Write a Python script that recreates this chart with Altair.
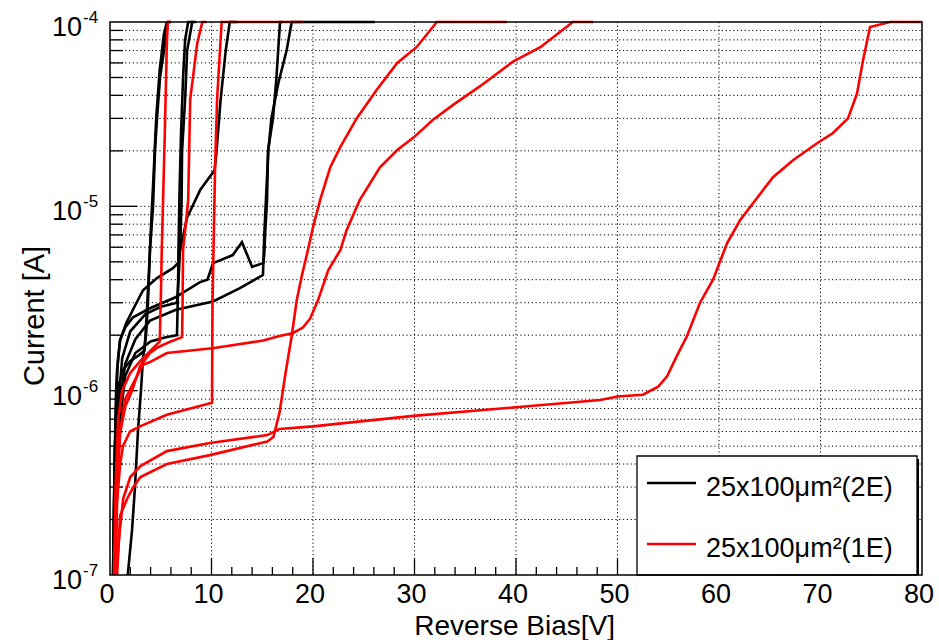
import altair as alt
import pandas as pd

# ---------------- data ----------------
# Black curves: 25x100um^2 (2E)
K1_V = [1.75, 2.17, 2.46, 2.76, 3.05, 3.25, 3.55, 3.74, 3.94, 4.24, 4.43, 4.63, 4.93, 5.32, 5.71, 6.0]
K1_I = [1e-7, 1.75e-7, 3e-7, 6.1e-7, 1e-6, 1.5e-6, 2e-6, 3e-6, 5.8e-6, 1e-5, 2e-5, 3e-5, 5e-5, 7e-5, 1e-4, 1e-4]
K2_V = [0.3, 0.4, 0.5, 0.65, 0.9, 1.3, 2.0, 2.8, 3.4, 3.6, 3.8, 4.05, 4.3, 4.55, 4.9, 5.3, 5.6]
K2_I = [1e-7, 2.5e-7, 5e-7, 8e-7, 1.1e-6, 1.3e-6, 1.45e-6, 1.55e-6, 1.65e-6, 2.5e-6, 4e-6, 8e-6, 1.5e-5, 3e-5, 5.5e-5, 8.5e-5, 1e-4]
K3_V = [0.35, 0.45, 0.6, 0.8, 1.0, 1.6, 2.6, 3.25, 4.63, 6.2, 6.7, 6.9, 7.05, 7.1, 7.4, 7.6, 8.1, 8.5]
K3_I = [1e-7, 4e-7, 1e-6, 1.5e-6, 1.88e-6, 2.33e-6, 2.99e-6, 3.5e-6, 4.08e-6, 4.62e-6, 4.92e-6, 5.8e-6, 1.05e-5, 2e-5, 3.8e-5, 7e-5, 1e-4, 1e-4]
K4_V = [0.4, 0.55, 0.8, 1.2, 2.0, 3.5, 5.0, 6.6, 6.75, 6.9, 7.6, 8.9, 10.3, 10.5, 10.9, 11.4, 11.8, 12.5]
K4_I = [1e-7, 3e-7, 8e-7, 1.5e-6, 2.1e-6, 2.6e-6, 2.85e-6, 3.0e-6, 4e-6, 5.8e-6, 8.7e-6, 1.23e-5, 1.57e-5, 2e-5, 3.8e-5, 7e-5, 1e-4, 1e-4]
K5_V = [0.5, 0.7, 1.0, 1.5, 2.5, 4.0, 5.5, 6.6, 6.7, 6.75, 6.85, 7.0, 7.2, 7.4, 7.7, 8.2]
K5_I = [1e-7, 3e-7, 7e-7, 1.2e-6, 1.6e-6, 1.85e-6, 1.95e-6, 2.0e-6, 3.5e-6, 6e-6, 1.2e-5, 2.5e-5, 5e-5, 8e-5, 1e-4, 1e-4]
K6_V = [0.3, 0.45, 0.7, 0.99, 1.5, 2.27, 3.94, 6.4, 8.87, 9.6, 10.15, 12.1, 13.0, 14.0, 15.1, 15.2, 15.3, 15.47, 15.57, 16.06, 16.4, 16.75, 17.0]
K6_I = [1e-7, 4e-7, 1.3e-6, 1.88e-6, 2.2e-6, 2.5e-6, 2.8e-6, 3.2e-6, 3.88e-6, 4.0e-6, 4.92e-6, 5.44e-6, 6.39e-6, 4.7e-6, 4.92e-6, 5.5e-6, 7.4e-6, 1.07e-5, 2e-5, 3e-5, 5e-5, 1e-4, 1e-4]
K7_V = [0.4, 0.6, 0.9, 1.5, 2.5, 3.94, 6.5, 10.15, 12.8, 15.07, 15.2, 15.4, 15.6, 15.9, 16.6, 17.4, 17.9, 26.1]
K7_I = [1e-7, 3e-7, 8e-7, 1.4e-6, 1.9e-6, 2.4e-6, 2.75e-6, 3.05e-6, 3.6e-6, 4.24e-6, 7e-6, 1.2e-5, 2e-5, 3e-5, 4.7e-5, 7e-5, 1e-4, 1e-4]

# Red curves: 25x100um^2 (1E)
R1_V = [0.4, 0.55, 0.8, 1.2, 2.0, 3.0, 4.0, 4.9, 5.0, 5.1, 5.25, 5.4, 5.6, 5.7, 6.0]
R1_I = [1e-7, 3e-7, 7e-7, 1.0e-6, 1.25e-6, 1.45e-6, 1.65e-6, 1.85e-6, 3e-6, 5.8e-6, 1.2e-5, 2.5e-5, 7.7e-5, 1e-4, 1e-4]
R2_V = [0.45, 0.6, 1.0, 1.5, 2.17, 2.96, 3.94, 4.73, 6.0, 7.1, 7.15, 7.2, 7.7, 7.9, 8.6, 9.1, 9.5]
R2_I = [1e-7, 3e-7, 5.9e-7, 8.2e-7, 1.0e-6, 1.35e-6, 1.6e-6, 1.72e-6, 1.85e-6, 1.95e-6, 3e-6, 5.8e-6, 1.07e-5, 3.8e-5, 7.7e-5, 1e-4, 1e-4]
R3_V = [0.5, 0.7, 1.0, 1.28, 1.97, 2.96, 5.6, 10.05, 10.1, 10.2, 10.35, 10.55, 10.8, 11.0, 19.0]
R3_I = [1e-7, 2.5e-7, 4e-7, 5e-7, 6e-7, 6.4e-7, 7.4e-7, 8.6e-7, 3e-6, 5.8e-6, 1.6e-5, 3.8e-5, 6.5e-5, 1e-4, 1e-4]
R4_V = [0.5, 0.7, 1.0, 1.5, 2.3, 3.25, 3.94, 5.6, 10.1, 15.1, 16.7, 18.0, 19.0, 19.7, 20.5, 21.5, 22.7, 23.3, 24.6,
        26.6, 28.3, 29.9, 31.8, 33.8, 36.5, 39.7, 42.4, 45.6, 47.6]
R4_I = [1e-7, 3e-7, 6e-7, 9e-7, 1.1e-6, 1.38e-6, 1.43e-6, 1.6e-6, 1.7e-6, 1.87e-6, 1.98e-6, 2.05e-6, 2.2e-6, 2.45e-6,
        3.1e-6, 4.5e-6, 5.8e-6, 7.4e-6, 1.08e-5, 1.63e-5, 2.02e-5, 2.36e-5, 2.94e-5, 3.55e-5, 4.5e-5, 6.1e-5, 7.3e-5, 1e-4, 1e-4]
R5_V = [0.7, 1.0, 1.7, 2.3, 3.0, 5.6, 9.85, 15.5, 16.1, 16.7, 17.3, 17.9, 18.4, 18.9, 19.5, 20.0, 20.7, 21.7,
        22.7, 24.3, 26.3, 28.3, 30.2, 32.2, 39.1]
R5_I = [1e-7, 2.1e-7, 2.6e-7, 3e-7, 3.4e-7, 4.0e-7, 4.47e-7, 5.3e-7, 5.6e-7, 7.6e-7, 1.25e-6, 1.98e-6, 3.1e-6,
        4.2e-6, 5.8e-6, 7.7e-6, 1.08e-5, 1.63e-5, 2.1e-5, 3.0e-5, 4.3e-5, 6e-5, 7.3e-5, 1e-4, 1e-4]
R6_V = [0.6, 0.9, 1.3, 2.0, 3.0, 5.6, 9.85, 15.5, 16.7, 20.0, 29.9, 39.7, 48.3, 50.0, 52.5, 54.0, 54.9, 55.86,
        56.85, 58.13, 59.41, 60.79, 62.07, 63.35, 65.32, 67.29, 69.66, 71.23, 72.71, 73.6, 74.19, 74.88, 76.85, 80.0]
R6_I = [1e-7, 1.6e-7, 2.6e-7, 3.4e-7, 3.9e-7, 4.7e-7, 5.2e-7, 5.74e-7, 6.2e-7, 6.4e-7, 7.3e-7, 8.1e-7, 8.9e-7,
        9.3e-7, 9.5e-7, 1.05e-6, 1.2e-6, 1.55e-6, 1.98e-6, 3.0e-6, 4.0e-6, 6.3e-6, 8.4e-6, 1.04e-5, 1.44e-5,
        1.78e-5, 2.2e-5, 2.5e-5, 3.0e-5, 4.1e-5, 6.2e-5, 9.4e-5, 1e-4, 1e-4]

# Axes / grid values and labels
X_LABEL_VALUES = [0, 10, 20, 30, 40, 50, 60, 70, 80]
X_MAJOR_TICKS = [10, 20, 30, 40, 50, 60, 70]
X_MINOR_TICKS = [2, 4, 6, 8, 12, 14, 16, 18, 22, 24, 26, 28, 32, 34, 36, 38, 42, 44, 46, 48,
                 52, 54, 56, 58, 62, 64, 66, 68, 72, 74, 76, 78]
Y_LABEL_VALUES = [1e-7, 1e-6, 1e-5, 1e-4]
Y_LABEL_EXPONENTS = ["-7", "-6", "-5", "-4"]
Y_MAJOR_TICKS = [1e-6, 1e-5]
Y_MINOR_TICKS = [2e-7, 3e-7, 4e-7, 5e-7, 6e-7, 7e-7, 8e-7, 9e-7,
                 2e-6, 3e-6, 4e-6, 5e-6, 6e-6, 7e-6, 8e-6, 9e-6,
                 2e-5, 3e-5, 4e-5, 5e-5, 6e-5, 7e-5, 8e-5, 9e-5]
LEGEND_LABELS = ["25x100\u03bcm\u00b2(2E)", "25x100\u03bcm\u00b2(1E)"]
X_TITLE = "Reverse Bias[V]"
Y_TITLE = "Current [A]"

curves_2E = {"K1": (K1_V, K1_I), "K2": (K2_V, K2_I), "K3": (K3_V, K3_I), "K4": (K4_V, K4_I),
             "K5": (K5_V, K5_I), "K6": (K6_V, K6_I), "K7": (K7_V, K7_I)}
curves_1E = {"R1": (R1_V, R1_I), "R2": (R2_V, R2_I), "R3": (R3_V, R3_I), "R4": (R4_V, R4_I),
             "R5": (R5_V, R5_I), "R6": (R6_V, R6_I)}


def to_frame(curves):
    rows = []
    for name, (vs, cs) in curves.items():
        for k, (v, c) in enumerate(zip(vs, cs)):
            rows.append({"V": v, "I": c, "curve": name, "k": k})
    return pd.DataFrame(rows)


df_black = to_frame(curves_2E)
df_red = to_frame(curves_1E)

W, H = 812, 553
FONT = "Liberation Sans"

X = alt.X("V:Q", scale=alt.Scale(domain=[0, 80], nice=False, zero=False), axis=None)
Y = alt.Y("I:Q", scale=alt.Scale(type="log", domain=[1e-7, 1e-4], nice=False), axis=None)
one = pd.DataFrame({"a": [0]})

grid_v = alt.Chart(pd.DataFrame({"V": X_MAJOR_TICKS})).mark_rule(
    color="black", strokeWidth=1, strokeDash=[1.2, 2.6]
).encode(x=X, y=alt.value(0), y2=alt.value(H))

grid_h = alt.Chart(pd.DataFrame({"I": Y_MINOR_TICKS + Y_MAJOR_TICKS})).mark_rule(
    color="black", strokeWidth=1, strokeDash=[1.2, 2.6]
).encode(y=Y, x=alt.value(0), x2=alt.value(W))

ytick_minor = alt.Chart(pd.DataFrame({"I": Y_MINOR_TICKS})).mark_rule(
    color="black", strokeWidth=1.3
).encode(y=Y, x=alt.value(0), x2=alt.value(13))
ytick_major = alt.Chart(pd.DataFrame({"I": Y_MAJOR_TICKS})).mark_rule(
    color="black", strokeWidth=1.3
).encode(y=Y, x=alt.value(0), x2=alt.value(27))
xtick_minor = alt.Chart(pd.DataFrame({"V": X_MINOR_TICKS})).mark_rule(
    color="black", strokeWidth=1.3
).encode(x=X, y=alt.value(H), y2=alt.value(H - 8))
xtick_major = alt.Chart(pd.DataFrame({"V": X_MAJOR_TICKS})).mark_rule(
    color="black", strokeWidth=1.3
).encode(x=X, y=alt.value(H), y2=alt.value(H - 17))

black_lines = alt.Chart(df_black).mark_line(color="black", strokeWidth=2.6).encode(
    x=X, y=Y, detail="curve:N", order="k:Q")
red_lines = alt.Chart(df_red).mark_line(color="#ff0000", strokeWidth=2.6).encode(
    x=X, y=Y, detail="curve:N", order="k:Q")

legend_box = alt.Chart(one).mark_rect(fill="white", stroke="black", strokeWidth=1.3).encode(
    x=alt.value(527), x2=alt.value(807), y=alt.value(434), y2=alt.value(H))
legend_shadow = alt.Chart(one).mark_rule(color="black", strokeWidth=2).encode(
    x=alt.value(808), x2=alt.value(808), y=alt.value(437), y2=alt.value(H))
leg_line1 = alt.Chart(one).mark_rule(color="black", strokeWidth=2.6).encode(
    x=alt.value(537), x2=alt.value(586), y=alt.value(461))
leg_line2 = alt.Chart(one).mark_rule(color="#ff0000", strokeWidth=2.6).encode(
    x=alt.value(537), x2=alt.value(586), y=alt.value(522))
leg_text1 = alt.Chart(one).mark_text(font=FONT, fontSize=27, align="left", baseline="alphabetic",
                                     color="black", text=LEGEND_LABELS[0]).encode(
    x=alt.value(596), y=alt.value(474))
leg_text2 = alt.Chart(one).mark_text(font=FONT, fontSize=27, align="left", baseline="alphabetic",
                                     color="black", text=LEGEND_LABELS[1]).encode(
    x=alt.value(596), y=alt.value(535))

frame = alt.Chart(one).mark_rect(filled=False, stroke="black", strokeWidth=1.5).encode(
    x=alt.value(0), x2=alt.value(W), y=alt.value(0), y2=alt.value(H))

xlabels = alt.Chart(pd.DataFrame({"V": X_LABEL_VALUES, "lab": [str(v) for v in X_LABEL_VALUES]})).mark_text(
    font=FONT, fontSize=27, align="center", baseline="alphabetic", dx=-3, color="black"
).encode(x=X, y=alt.value(581), text="lab:N")

ylab_df = pd.DataFrame({"I": Y_LABEL_VALUES, "base": ["10"] * 4, "exp": Y_LABEL_EXPONENTS})
ylabels_base = alt.Chart(ylab_df).mark_text(
    font=FONT, fontSize=27, align="right", baseline="alphabetic", dy=14, color="black"
).encode(y=Y, x=alt.value(-28), text="base:N")
ylabels_exp = alt.Chart(ylab_df).mark_text(
    font=FONT, fontSize=17, align="left", baseline="alphabetic", dy=1, color="black"
).encode(y=Y, x=alt.value(-27), text="exp:N")

xtitle = alt.Chart(one).mark_text(font=FONT, fontSize=28, align="right", baseline="alphabetic",
                                  color="black", text=X_TITLE).encode(
    x=alt.value(505), y=alt.value(613))
ytitle = alt.Chart(one).mark_text(font=FONT, fontSize=29, align="center", baseline="alphabetic",
                                  angle=270, color="black", text=Y_TITLE).encode(
    x=alt.value(-66), y=alt.value(294))

chart = alt.layer(
    grid_v, grid_h, ytick_minor, ytick_major, xtick_minor, xtick_major,
    black_lines, red_lines,
    legend_shadow, legend_box, leg_line1, leg_line2, leg_text1, leg_text2,
    frame, xlabels, ylabels_base, ylabels_exp, xtitle, ytitle
).properties(
    width=W, height=H,
    padding={"left": 110, "top": 22, "right": 17, "bottom": 65},
    autosize=alt.AutoSizeParams(type="none"),
    background="white"
).configure_view(stroke=None)

chart.save("out.html", embed_options={"renderer": "svg", "actions": False})
